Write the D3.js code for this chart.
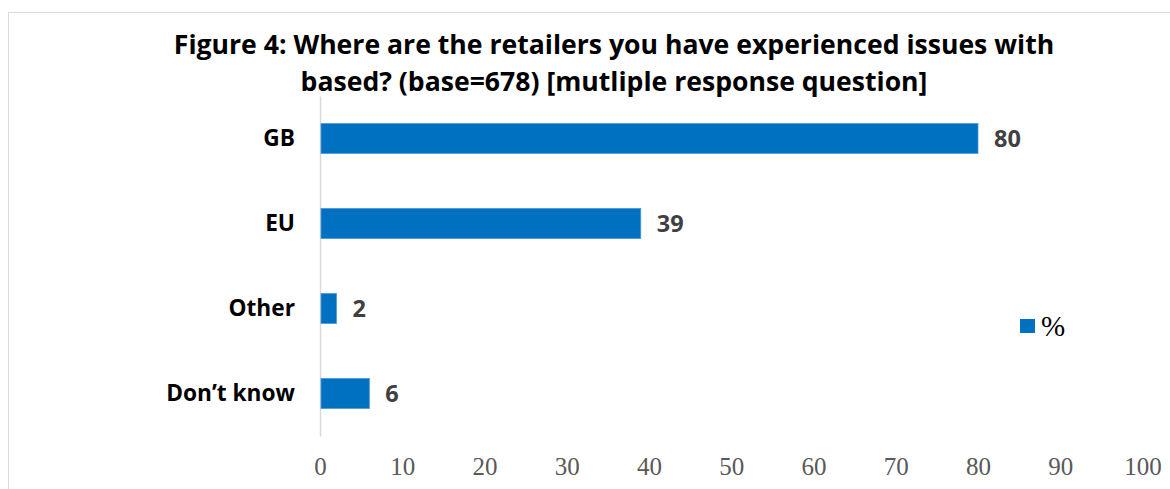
<!DOCTYPE html>
<html>
<head>
<meta charset="utf-8">
<script src="https://cdn.jsdelivr.net/npm/d3@7"></script>
<style>
  body { margin: 0; background: #fff; }
</style>
</head>
<body>
<div id="chart"></div>
<script>
// data
const categories = ["GB", "EU", "Other", "Don\u2019t know"];
const values = [80, 39, 2, 6];
const xTicks = [0, 10, 20, 30, 40, 50, 60, 70, 80, 90, 100];
const titleLines = [
  "Figure 4: Where are the retailers you have experienced issues with",
  "based? (base=678) [mutliple response question]"
];
const legendLabel = "%";

const width = 1170, height = 489;
const plot = { left: 320, right: 1142.5, top: 96, bottom: 436 };
const barColor = "#0070C0";
const sans = "'Open Sans', Lato, sans-serif";
const serif = "'Liberation Serif', 'DejaVu Serif', serif";

const svg = d3.select("#chart")
  .append("svg")
  .attr("width", width)
  .attr("height", height)
  .style("display", "block");

// chart frame (runs past the window on right and bottom)
svg.append("rect")
  .attr("x", 8.5).attr("y", 12.5)
  .attr("width", 1200).attr("height", 520)
  .attr("fill", "#fff")
  .attr("stroke", "#d9d9d9")
  .attr("stroke-width", 1);

// title
svg.append("g")
  .selectAll("text")
  .data(titleLines)
  .join("text")
  .attr("x", 614)
  .attr("y", (d, i) => 54 + i * 37)
  .attr("text-anchor", "middle")
  .style("font-family", sans)
  .style("font-weight", "bold")
  .style("font-size", "26.6px")
  .style("fill", "#000")
  .text(d => d);

const x = d3.scaleLinear().domain([0, 100]).range([plot.left, plot.right]);
const y = d3.scaleBand().domain(categories).range([plot.top, plot.bottom]).paddingInner(0.647).paddingOuter(0.3235);

// x axis: labels only
const xAxis = svg.append("g")
  .attr("transform", `translate(0,${plot.bottom + 21})`)
  .call(d3.axisBottom(x).tickValues(xTicks).tickSize(0).tickPadding(0));
xAxis.select(".domain").remove();
xAxis.selectAll("text")
  .style("font-family", serif)
  .style("font-size", "25px")
  .style("fill", "#595959");

// y axis: gray line + bold category names
const yAxis = svg.append("g")
  .attr("transform", `translate(${plot.left},0)`)
  .call(d3.axisLeft(y).tickSize(0).tickPadding(25));
yAxis.select(".domain")
  .attr("stroke", "#d9d9d9")
  .attr("stroke-width", 1.5);
yAxis.selectAll("text")
  .style("font-family", sans)
  .style("font-weight", "bold")
  .style("font-size", "22.7px")
  .style("fill", "#000");

// bars
svg.append("g")
  .selectAll("rect")
  .data(values)
  .join("rect")
  .attr("x", x(0) + 1)
  .attr("y", (d, i) => y(categories[i]))
  .attr("width", d => x(d) - x(0) - 1)
  .attr("height", y.bandwidth())
  .attr("fill", barColor)
  .attr("stroke", "#4a9ad8")
  .attr("stroke-width", 0.8);

// value labels
svg.append("g")
  .selectAll("text")
  .data(values)
  .join("text")
  .attr("x", d => x(d) + 16)
  .attr("y", (d, i) => y(categories[i]) + y.bandwidth() / 2)
  .attr("dy", "0.36em")
  .style("font-family", sans)
  .style("font-weight", "bold")
  .style("font-size", "23.5px")
  .style("fill", "#404040")
  .text(d => d);

// legend
const legend = svg.append("g").attr("transform", "translate(1020,319)");
legend.append("rect")
  .attr("width", 15).attr("height", 14)
  .attr("fill", barColor);
legend.append("text")
  .attr("x", 21).attr("y", 7)
  .attr("dy", "0.36em")
  .style("font-family", serif)
  .style("font-size", "29px")
  .style("fill", "#000")
  .text(legendLabel);
</script>
</body>
</html>
